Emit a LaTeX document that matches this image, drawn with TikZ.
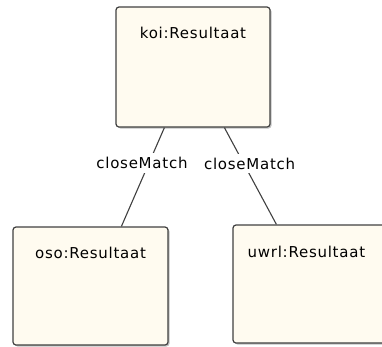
\documentclass[tikz,border=0pt]{standalone}
\usepackage{fontspec}
\newfontfamily\umlfont[LetterSpace=5]{DejaVu Sans}
\usetikzlibrary{shadows}
\definecolor{objfill}{HTML}{FFFBF0}
\definecolor{objline}{HTML}{404040}

\begin{document}
\begin{tikzpicture}[x=1pt, y=-1pt,
    obj/.style={rectangle, draw=objline, line width=1.2pt, fill=objfill, rounded corners=3pt,
      drop shadow={shadow xshift=1.5pt, shadow yshift=-1.5pt, fill=black!35, opacity=0.7},
      inner sep=0pt},
    objname/.style={anchor=base, font=\umlfont\fontsize{15}{18}\selectfont, inner sep=0pt},
    lbl/.style={fill=white, inner sep=4pt, font=\umlfont\fontsize{15}{18}\selectfont},
    rel/.style={draw=objline, line width=1.1pt}]
      \useasboundingbox (0,0) rectangle (382,346);

      % objects
      \node[obj, minimum width=154pt, minimum height=120pt,
            label={[objname, yshift=-32pt]north:{koi:Resultaat}}] (koi) at (193,67) {};
      \node[obj, minimum width=155pt, minimum height=118pt,
            label={[objname, yshift=-32pt]north:{oso:Resultaat}}] (oso) at (90.5,286) {};
      \node[obj, minimum width=160pt, minimum height=118pt,
            label={[objname, anchor=base west, xshift=15pt, yshift=-33pt]north west:{uwrl:Resultaat}}] (uwrl) at (313,284) {};

      % connector ends
      \coordinate (k1) at ([xshift=49pt]koi.south west);
      \coordinate (k2) at ([xshift=109pt]koi.south west);
      \coordinate (o1) at ([xshift=109pt]oso.north west);
      \coordinate (u1) at ([xshift=44pt]uwrl.north west);

      \draw[rel] (k1) -- node[lbl, pos=0.36, xshift=-7pt] (cm1) {closeMatch} (o1);
      \draw[rel] (k2) -- node[lbl, pos=0.37, xshift=6pt] (cm2) {closeMatch} (u1);
\end{tikzpicture}
\end{document}
